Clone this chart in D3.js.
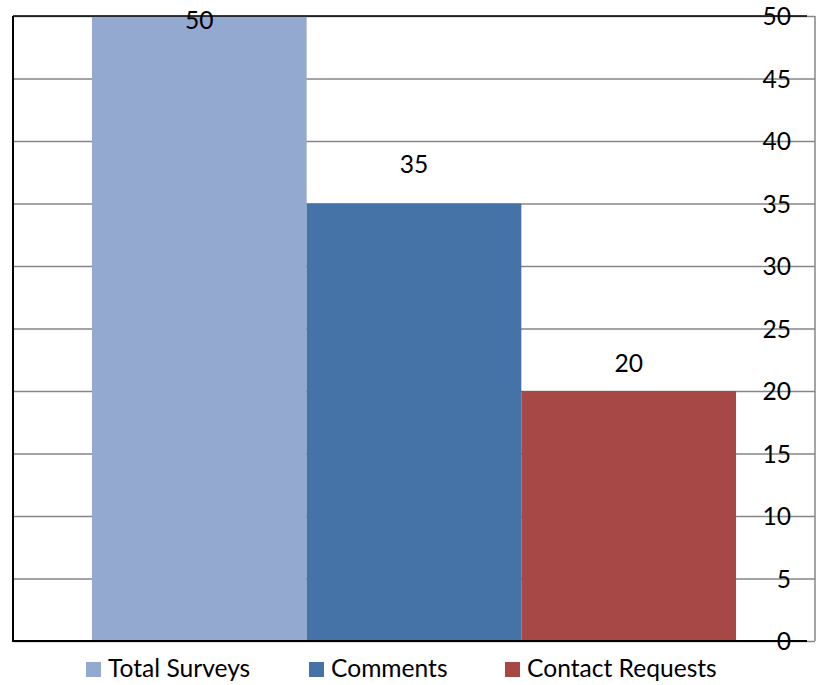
<!DOCTYPE html>
<html>
<head>
<meta charset="utf-8">
<script src="https://cdn.jsdelivr.net/npm/d3@7"></script>
<style>
  html, body { margin: 0; padding: 0; background: #fff; }
  svg { display: block; }
  text { font-family: Lato, "Open Sans", sans-serif; fill: #000; }
</style>
</head>
<body>
<svg id="chart" width="816" height="685"></svg>
<script>
// Survey response counts
const categories = ["Total Surveys", "Comments", "Contact Requests"];
const values = [50, 35, 20];
const tickValues = [0, 5, 10, 15, 20, 25, 30, 35, 40, 45, 50];
const colors = ["#94A9D0", "#4573A7", "#A84846"];

const plot = { left: 13, right: 815, top: 16, bottom: 641 };
const fontSize = 24.6;

const svg = d3.select("#chart");

const x = d3.scaleBand()
  .domain(categories)
  .range([plot.left, plot.right])
  .paddingInner(0)
  .paddingOuter(0.368);

const y = d3.scaleLinear()
  .domain([0, 50])
  .range([plot.bottom, plot.top]);

// horizontal gridlines, running from the right edge to the left axis
const grid = svg.append("g")
  .attr("transform", `translate(${plot.right},0)`)
  .call(d3.axisLeft(y).tickValues(tickValues).tickSize(plot.right - plot.left).tickFormat(""));
grid.select(".domain").remove();
grid.selectAll(".tick line").attr("stroke", "#868686").attr("stroke-width", 1.5);

// bars
svg.append("g").selectAll("rect")
  .data(categories)
  .join("rect")
  .attr("x", d => x(d))
  .attr("width", x.bandwidth())
  .attr("y", (d, i) => y(values[i]))
  .attr("height", (d, i) => y(0) - y(values[i]))
  .attr("fill", (d, i) => colors[i]);

// frame lines
svg.append("line")
  .attr("x1", plot.left).attr("x2", plot.right - 8)
  .attr("y1", plot.top).attr("y2", plot.top)
  .attr("stroke", "#000").attr("stroke-width", 1.5);
svg.append("line")
  .attr("x1", plot.left).attr("x2", plot.right - 8)
  .attr("y1", plot.bottom).attr("y2", plot.bottom)
  .attr("stroke", "#000").attr("stroke-width", 2);
svg.append("line")
  .attr("x1", plot.left).attr("x2", plot.left)
  .attr("y1", plot.top).attr("y2", plot.bottom + 1)
  .attr("stroke", "#000").attr("stroke-width", 2);
svg.append("line")
  .attr("x1", plot.right).attr("x2", plot.right)
  .attr("y1", plot.top).attr("y2", plot.bottom)
  .attr("stroke", "#868686").attr("stroke-width", 1.5);

// value axis labels on the right
const yAxis = svg.append("g")
  .attr("transform", "translate(791,0)")
  .call(d3.axisLeft(y).tickValues(tickValues).tickSize(0).tickPadding(0));
yAxis.select(".domain").remove();
yAxis.selectAll("text")
  .attr("font-size", fontSize)
  .attr("font-family", "Lato, sans-serif")
  .attr("fill", "#000")
  .attr("dy", "0.35em");

// data labels above each bar, kept inside the chart at the top
const labelOffset = { "Total Surveys": 0, "Comments": 31, "Contact Requests": 19 };
svg.append("g").selectAll("text")
  .data(categories)
  .join("text")
  .attr("x", d => x(d) + x.bandwidth() / 2)
  .attr("y", (d, i) => Math.max(y(values[i]) - labelOffset[d], plot.top + 13))
  .attr("text-anchor", "middle")
  .attr("font-size", fontSize)
  .text((d, i) => values[i]);

// legend
const legendX = [86, 309, 505];
const legend = svg.append("g").selectAll("g")
  .data(categories)
  .join("g")
  .attr("transform", (d, i) => `translate(${legendX[i]},662)`);
legend.append("rect")
  .attr("width", 15).attr("height", 15)
  .attr("fill", (d, i) => colors[i]);
legend.append("text")
  .attr("x", 22).attr("y", 15)
  .attr("font-size", fontSize)
  .text(d => d);
</script>
</body>
</html>
